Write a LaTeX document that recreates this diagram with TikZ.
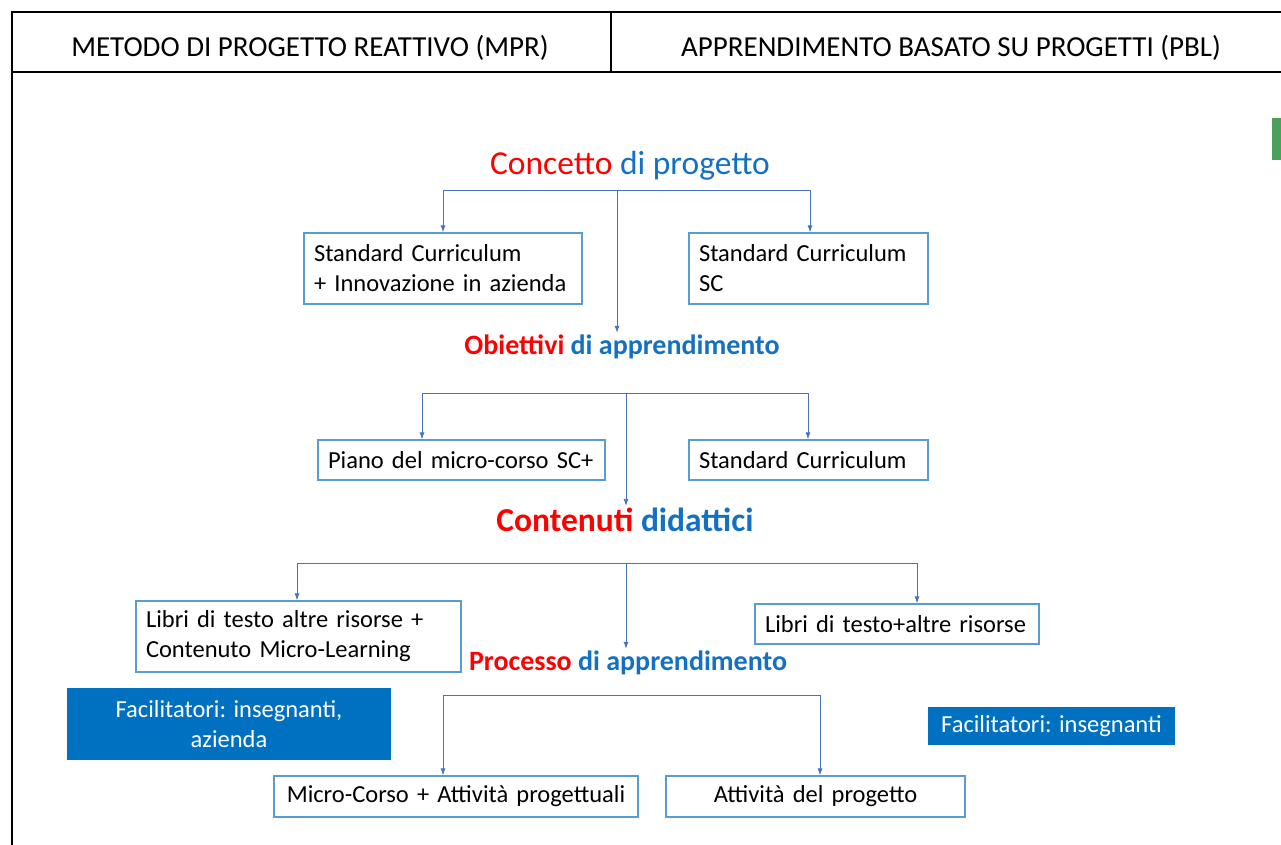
\documentclass[tikz,border=0pt]{standalone}
\usepackage{fontspec}
\setmainfont{Carlito}
\usetikzlibrary{arrows.meta}

\definecolor{redtitle}{RGB}{255,0,0}
\definecolor{bluetitle}{RGB}{20,112,195}
\definecolor{boxline}{RGB}{91,155,213}
\definecolor{wireblue}{RGB}{68,114,196}
\definecolor{facfill}{RGB}{0,112,192}
\definecolor{sliver}{RGB}{76,160,92}

\newcommand\headfont{\fontsize{29}{33}\selectfont}
\newcommand\boxfont{\fontsize{24.5}{30}\selectfont}
\newcommand\bigtitle{\fontsize{33.5}{38}\selectfont}
\newcommand\midtitle{\fontsize{28}{32}\selectfont\bfseries}

\tikzset{
  box/.style={draw=boxline, line width=1.3pt, inner xsep=10pt, inner ysep=0pt, font=\boxfont},
  facbox/.style={fill=facfill, text=white, inner sep=0pt, align=center, font=\boxfont},
  title/.style={inner sep=2pt},
  wire/.style={draw=wireblue, line width=0.8pt},
  arr/.style={wire, -{Latex[length=7pt,width=5pt]}}
}

\begin{document}
\begin{tikzpicture}[x=1pt,y=-1pt]
    \useasboundingbox (0,0) rectangle (1281,845);
    % table
    \draw[line width=2pt] (12,845) -- (12,12) -- (1281,12);
    \draw[line width=2pt] (12,72) -- (1281,72);
    \draw[line width=1.5pt] (611,12) -- (611,72);
    \node[font=\headfont] (mpr) at (310,48) {METODO DI PROGETTO REATTIVO (MPR)};
    \node[font=\headfont] (pbl) at (951,48) {APPRENDIMENTO BASATO SU PROGETTI (PBL)};
    \fill[sliver] (1272,118) rectangle (1281,160);

    % titles
    \node[title,font=\bigtitle] (conc) at (630,166) {\textcolor{redtitle}{Concetto} \textcolor{bluetitle}{di progetto}};
    \node[title,font=\midtitle] (obj) at (622,347) {\textcolor{redtitle}{Obiettivi} \textcolor{bluetitle}{di apprendimento}};
    \node[title,font=\bigtitle\bfseries] (cont) at (625,520) {\textcolor{redtitle}{Contenuti} \textcolor{bluetitle}{didattici}};
    \node[title,font=\midtitle] (proc) at (628,663) {\textcolor{redtitle}{Processo} \textcolor{bluetitle}{di apprendimento}};

    % boxes
    \node[box, text width=258pt, minimum height=71pt, align=left] (sci) at (443,268.5) {Standard Curriculum\\+ Innovazione in azienda};
    \node[box, text width=219pt, minimum height=71pt, align=left] (sc) at (808.5,268.5) {Standard Curriculum\\SC};
    \node[box, text width=267pt, minimum height=40pt, align=left] (piano) at (461.5,460) {Piano del micro-corso SC+};
    \node[box, text width=219pt, minimum height=40pt, align=left] (std) at (808.5,460) {Standard Curriculum};
    \node[box, text width=305pt, minimum height=71pt, align=left] (libml) at (298.5,636.5) {Libri di testo altre risorse +\\Contenuto Micro-Learning};
    \node[box, text width=264pt, minimum height=40pt, align=left] (lib) at (897,624) {Libri di testo+altre risorse};
    \node[box, text width=344pt, minimum height=41pt, align=center] (micro) at (456,796.5) {Micro-Corso + Attività progettuali};
    \node[box, text width=279pt, minimum height=41pt, align=center] (att) at (815.5,796.5) {Attività del progetto};
    \node[facbox, minimum width=324pt, minimum height=72pt] (fac1) at (229,724) {Facilitatori: insegnanti,\\azienda};
    \node[facbox, minimum width=247pt, minimum height=38pt] (fac2) at (1051.5,726) {Facilitatori: insegnanti};

    % connectors
    \coordinate (h1l) at (443,190);
    \coordinate (h1c) at (617,190);
    \coordinate (h1r) at (810,190);
    \draw[wire] (h1l) -- (h1r);
    \draw[arr] (h1l) -- (h1l |- sci.north);
    \draw[arr] (h1r) -- (h1r |- sc.north);
    \draw[arr] (h1c) -- (h1c |- obj.north);

    \coordinate (h2l) at (422,393);
    \coordinate (h2c) at (626,393);
    \coordinate (h2r) at (808,393);
    \draw[wire] (h2l) -- (h2r);
    \draw[arr] (h2l) -- (h2l |- piano.north);
    \draw[arr] (h2r) -- (h2r |- std.north);
    \draw[arr] (h2c) -- (h2c |- cont.north);

    \coordinate (h3l) at (297,563);
    \coordinate (h3c) at (626,563);
    \coordinate (h3r) at (917,563);
    \draw[wire] (h3l) -- (h3r);
    \draw[arr] (h3l) -- (h3l |- libml.north);
    \draw[arr] (h3r) -- (h3r |- lib.north);
    \draw[arr] (h3c) -- (h3c |- proc.north);

    \coordinate (h4l) at (443,695);
    \coordinate (h4r) at (820,695);
    \draw[wire] (h4l) -- (h4r);
    \draw[arr] (h4l) -- (h4l |- micro.north);
    \draw[arr] (h4r) -- (h4r |- att.north);
\end{tikzpicture}
\end{document}
